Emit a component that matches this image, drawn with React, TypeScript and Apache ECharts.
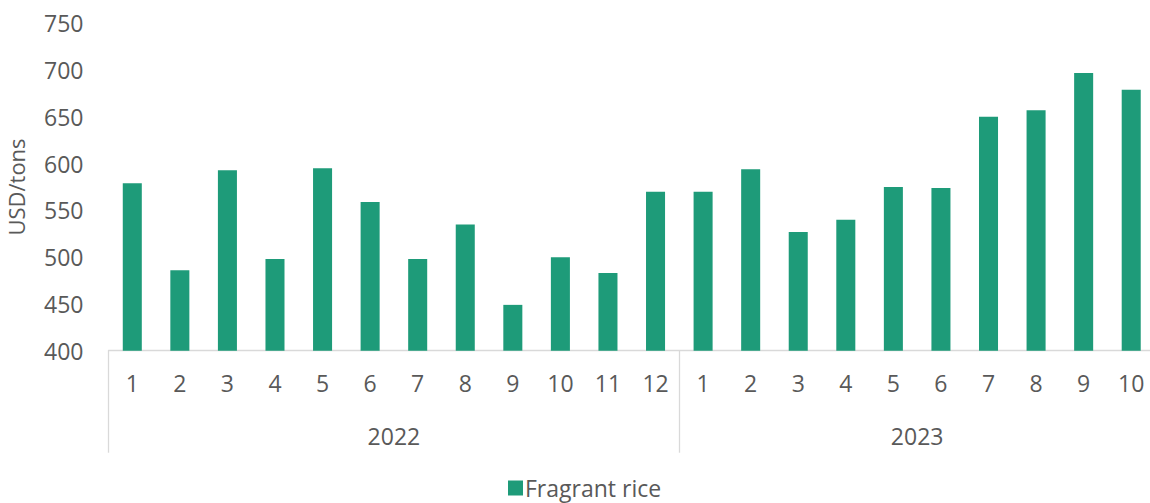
import React, { useEffect, useRef } from "react";
import * as echarts from "echarts";

const months = ["1", "2", "3", "4", "5", "6", "7", "8", "9", "10", "11", "12", "1", "2", "3", "4", "5", "6", "7", "8", "9", "10"];
const years = ["2022", "2023"];
const yearBoundaries = [0, 12, 22];
const yearCenters = [6, 17];
const fragrantRice = [579, 486, 593, 498, 595, 559, 498, 535, 449, 500, 483, 570, 570, 594, 527, 540, 575, 574, 650, 657, 697, 679];

const FONT = "'Open Sans', sans-serif";
const TXT = "#595959";
const GRIDLINE = "#d9d9d9";

export default function App() {
  const ref = useRef<HTMLDivElement>(null);
  useEffect(() => {
    document.body.style.margin = "0";
    const chart = echarts.init(ref.current!, null, { renderer: "svg" });
    chart.setOption({
      animation: false,
      textStyle: { fontFamily: FONT },
      grid: {
        left: 108.5,
        top: 23.3,
        width: 1046.5,
        height: 327.4,
        containLabel: false,
        outerBoundsMode: "none",
      },
      legend: {
        data: ["Fragrant rice"],
        left: 503,
        top: 471,
        icon: "rect",
        itemWidth: 15,
        itemHeight: 15,
        itemGap: 10,
        textStyle: { fontFamily: FONT, fontSize: 23, lineHeight: 24, color: TXT, padding: [0, 0, 0, -3] },
      },
      xAxis: [
        {
          type: "category",
          data: months,
          position: "bottom",
          axisLine: { show: true, lineStyle: { color: GRIDLINE, width: 1.3 } },
          axisTick: { show: false },
          axisLabel: { fontFamily: FONT, fontSize: 23, color: TXT, margin: 21, interval: 0 },
          splitLine: { show: false },
        },
        {
          type: "value",
          min: 0,
          max: 22,
          position: "bottom",
          axisLine: { show: false },
          axisTick: {
            show: true,
            customValues: yearBoundaries,
            length: 102,
            lineStyle: { color: GRIDLINE, width: 1.3 },
          },
          axisLabel: {
            show: true,
            customValues: yearCenters,
            formatter: (v: number) => years[yearCenters.indexOf(v)] ?? "",
            fontFamily: FONT,
            fontSize: 23,
            color: TXT,
            margin: 74,
          },
          splitLine: { show: false },
        },
      ],
      yAxis: {
        type: "value",
        min: 400,
        max: 750,
        interval: 50,
        name: "USD/tons",
        nameLocation: "middle",
        nameGap: 82,
        nameTextStyle: { fontFamily: FONT, fontSize: 22, color: TXT },
        axisLine: { show: false },
        axisTick: { show: false },
        splitLine: { show: false },
        axisLabel: { fontFamily: FONT, fontSize: 23, color: TXT, margin: 25 },
      },
      series: [
        {
          name: "Fragrant rice",
          type: "bar",
          data: fragrantRice,
          xAxisIndex: 0,
          barWidth: "40%",
          itemStyle: { color: "#1e9b79" },
        },
      ],
    });
    return () => chart.dispose();
  }, []);
  return <div ref={ref} style={{ width: 1150, height: 503 }} />;
}
